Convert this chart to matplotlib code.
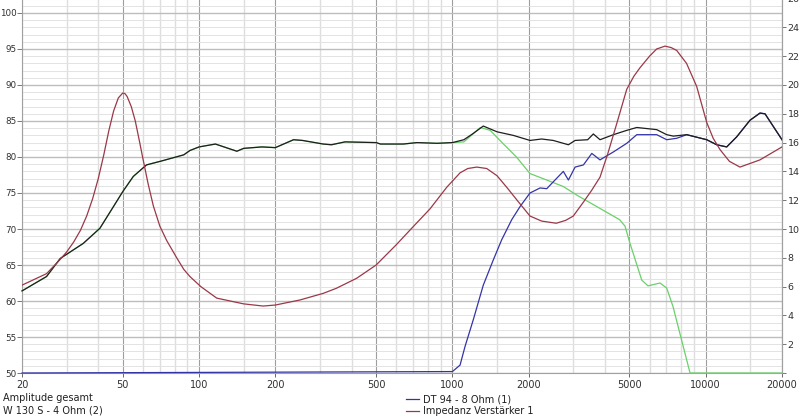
import matplotlib
matplotlib.use("Agg")
import matplotlib.pyplot as plt
from matplotlib.lines import Line2D

# ---------------- data ----------------
# Amplitude gesamt (black), dB
f_total = [20, 25, 28.3, 34.9, 40.6, 45.9, 50, 55, 62, 72, 87, 92, 100, 116, 141, 150, 177, 200,
           236, 256, 309, 333, 377, 500, 520, 640, 725, 870, 1000, 1110, 1200, 1324, 1500, 1740,
           2024, 2250, 2500, 2870, 3050, 3420, 3600, 3825, 4319, 4877, 5343, 6404, 7014, 7450,
           8413, 10090, 11050, 12100, 13250, 14950, 16370, 17140, 20000]
db_total = [61.4, 63.4, 65.9, 68.0, 70.1, 73.1, 75.2, 77.3, 78.9, 79.5, 80.3, 80.9, 81.4, 81.8, 80.8,
            81.2, 81.4, 81.3, 82.4, 82.3, 81.8, 81.7, 82.1, 82.0, 81.8, 81.8, 82.0, 81.9, 82.0,
            82.4, 83.2, 84.3, 83.5, 83.0, 82.3, 82.5, 82.3, 81.7, 82.3, 82.4, 83.2, 82.4, 83.1,
            83.7, 84.1, 83.8, 83.1, 82.9, 83.1, 82.4, 81.7, 81.4, 82.8, 85.1, 86.1, 86.0, 82.4]

# W 130 S - 4 Ohm (2) (green), dB
f_woofer = [20, 25, 28.3, 34.9, 40.6, 45.9, 50, 55, 62, 72, 87, 92, 100, 116, 141, 150, 177, 200,
            236, 256, 309, 333, 377, 500, 520, 640, 725, 870, 1000, 1110, 1290, 1410, 1560, 1790,
            2024, 2357, 2741, 3100, 3720, 4570, 4800, 5024, 5590, 5918, 6600, 7013, 7430, 8670, 20000]
db_woofer = [61.4, 63.4, 65.9, 68.0, 70.1, 73.1, 75.2, 77.3, 78.9, 79.5, 80.3, 80.9, 81.4, 81.8, 80.8,
             81.2, 81.4, 81.3, 82.4, 82.3, 81.8, 81.7, 82.1, 82.0, 81.8, 81.8, 82.0, 81.9, 82.0,
             82.1, 84.1, 83.7, 82.1, 80.0, 77.7, 76.8, 75.9, 74.7, 73.1, 71.3, 70.4, 68.0, 62.9,
             62.1, 62.5, 61.8, 59.2, 50.0, 50.0]

# DT 94 - 8 Ohm (1) (blue), dB
f_tweeter = [20, 1000, 1072, 1122, 1209, 1324, 1450, 1565, 1715, 1848, 2024, 2218, 2357, 2541, 2741,
             2870, 3050, 3290, 3550, 3825, 4319, 4877, 5343, 6404, 7014, 7680, 8413, 10090, 11050,
             12100, 13250, 14950, 16370, 17140, 20000]
db_tweeter = [50.0, 50.2, 51.1, 53.7, 57.4, 62.2, 65.7, 68.5, 71.3, 73.1, 75.0, 75.7, 75.6, 76.8, 78.0,
              76.8, 78.6, 78.9, 80.5, 79.6, 80.7, 81.9, 83.1, 83.1, 82.4, 82.6, 83.1, 82.4, 81.7,
              81.4, 82.8, 85.1, 86.1, 86.0, 82.4]

# Impedanz Verstaerker 1 (red), Ohm (right axis)
f_imp = [20, 25, 28, 30, 32, 34, 36, 38, 40, 42, 44, 46, 48, 50, 51, 52, 54, 56, 58, 60, 63, 66,
         70, 74.5, 81.6, 87, 92, 101.6, 117.4, 150, 179, 200, 250, 309, 348, 419, 500, 600, 700,
         816, 950, 1072, 1150, 1248, 1366, 1500, 1638, 1800, 2024, 2250, 2570, 2800, 3000, 3300,
         3550, 3825, 4100, 4450, 4877, 5200, 5502, 6000, 6400, 6904, 7300, 7680, 8400, 9210,
         10090, 10700, 11400, 12400, 13650, 16370, 20000]
ohm_imp = [6.1, 6.9, 7.8, 8.4, 9.1, 9.9, 10.9, 12.1, 13.5, 15.1, 16.8, 18.2, 19.1, 19.45, 19.4,
           19.2, 18.5, 17.5, 16.2, 14.9, 13.1, 11.6, 10.2, 9.2, 8.0, 7.2, 6.7, 6.0, 5.2, 4.8, 4.65,
           4.72, 5.07, 5.53, 5.88, 6.58, 7.5, 8.9, 10.16, 11.4, 12.9, 13.9, 14.2, 14.3, 14.2, 13.7,
           12.9, 12.0, 10.9, 10.55, 10.4, 10.6, 10.9, 11.9, 12.7, 13.6, 15.2, 17.3, 19.7, 20.6,
           21.2, 22.0, 22.5, 22.7, 22.6, 22.4, 21.5, 19.9, 17.4, 16.3, 15.5, 14.7, 14.3, 14.8, 15.7]

x_major = [20, 50, 100, 200, 500, 1000, 2000, 5000, 10000, 20000]
x_major_labels = ["20", "50", "100", "200", "500", "1000", "2000", "5000", "10000", "20000"]
x_minor = [30, 40, 60, 70, 80, 90, 150, 300, 400, 600, 700, 800, 900, 1500, 3000, 4000,
           6000, 7000, 8000, 9000, 15000]
y_major = [50, 55, 60, 65, 70, 75, 80, 85, 90, 95, 100]
y_minor = list(range(50, 103))
r_ticks = list(range(0, 28, 2))

# ---------------- figure ----------------
W, H = 800, 419
fig = plt.figure(figsize=(W / 100, H / 100), dpi=100)
fig.patch.set_facecolor("white")
plt.rcParams['font.family'] = ['DejaVu Sans']

ax_l, ax_b = 22 / W, 1 - 373 / H
ax_w, ax_h = 760 / W, 374.4 / H
ax = fig.add_axes([ax_l, ax_b, ax_w, ax_h])
ax.set_xscale("log")
ax.set_xlim(20, 20000)
ax.set_ylim(50, 102)

ax.set_xticks(x_major)
ax.set_xticklabels(x_major_labels)
ax.set_xticks(x_minor, minor=True)
ax.set_xticklabels([], minor=True)
ax.set_yticks(y_major)
ax.set_yticks(y_minor, minor=True)

ax.tick_params(axis="x", which="major", labelsize=7, colors="#505050", length=3, width=0.6,
               labelcolor="#303030", pad=2)
ax.tick_params(axis="x", which="minor", length=0)
ax.tick_params(axis="y", which="major", labelsize=6.3, length=3.5, width=0.6, colors="#606060",
               labelcolor="#303030", pad=0.5)
ax.tick_params(axis="y", which="minor", length=0)

# grid
ax.grid(True, which="minor", axis="y", color="#e3e3e3", linewidth=0.7)
ax.grid(True, which="major", axis="y", color="#bdbdbd", linewidth=1.0)
ax.grid(True, which="minor", axis="x", color="#dedede", linewidth=1.0)
ax.grid(True, which="major", axis="x", color="#9e9e9e", linewidth=0.8)
ax.set_axisbelow(True)

ax.spines["top"].set_visible(False)
for s in ["left", "right", "bottom"]:
    ax.spines[s].set_color("#a0a0a0")
    ax.spines[s].set_linewidth(0.8)

c_green = "#6ad06a"
c_blue = "#3434a8"
c_black = "#1e1e1e"
c_red = "#9a3848"

ax.plot(f_woofer, db_woofer, color=c_green, lw=0.9, clip_on=False, zorder=3)
ax.plot(f_tweeter, db_tweeter, color=c_blue, lw=0.9, clip_on=False, zorder=4)
ax.plot(f_total, db_total, color=c_black, lw=0.9, clip_on=False, zorder=5)

ax2 = ax.twinx()
ax2.set_ylim(0, 26)
ax2.set_yticks(r_ticks)
ax2.set_yticklabels([""] + [str(t) for t in r_ticks[1:]])
ax2.tick_params(axis="y", labelsize=6.8, length=3, width=0.6, colors="#606060",
                labelcolor="#303030", pad=1)
for s in ["top", "left", "bottom"]:
    ax2.spines[s].set_visible(False)
ax2.spines["right"].set_color("#a0a0a0")
ax2.spines["right"].set_linewidth(0.8)
ax2.plot(f_imp, ohm_imp, color=c_red, lw=0.9, zorder=6)

# legend texts at the bottom
def px(x, y):
    return x / W, 1 - y / H

fs = 7
fig.text(*px(3, 398), "Amplitude gesamt", fontsize=fs, color="#202020", va="center", ha="left")
fig.text(*px(3, 410), "W 130 S - 4 Ohm (2)", fontsize=fs, color="#202020", va="center", ha="left")

for (yy, col, label) in [(399, c_blue, "DT 94 - 8 Ohm (1)"), (411, c_red, "Impedanz Verstärker 1")]:
    x0, y0 = px(406, yy)
    x1, _ = px(419, yy)
    fig.add_artist(Line2D([x0, x1], [y0, y0], color=col, lw=0.9, transform=fig.transFigure))
    fig.text(*px(423, yy), label, fontsize=fs, color="#202020", va="center", ha="left")

fig.savefig("out.png", dpi=100, facecolor="white")
